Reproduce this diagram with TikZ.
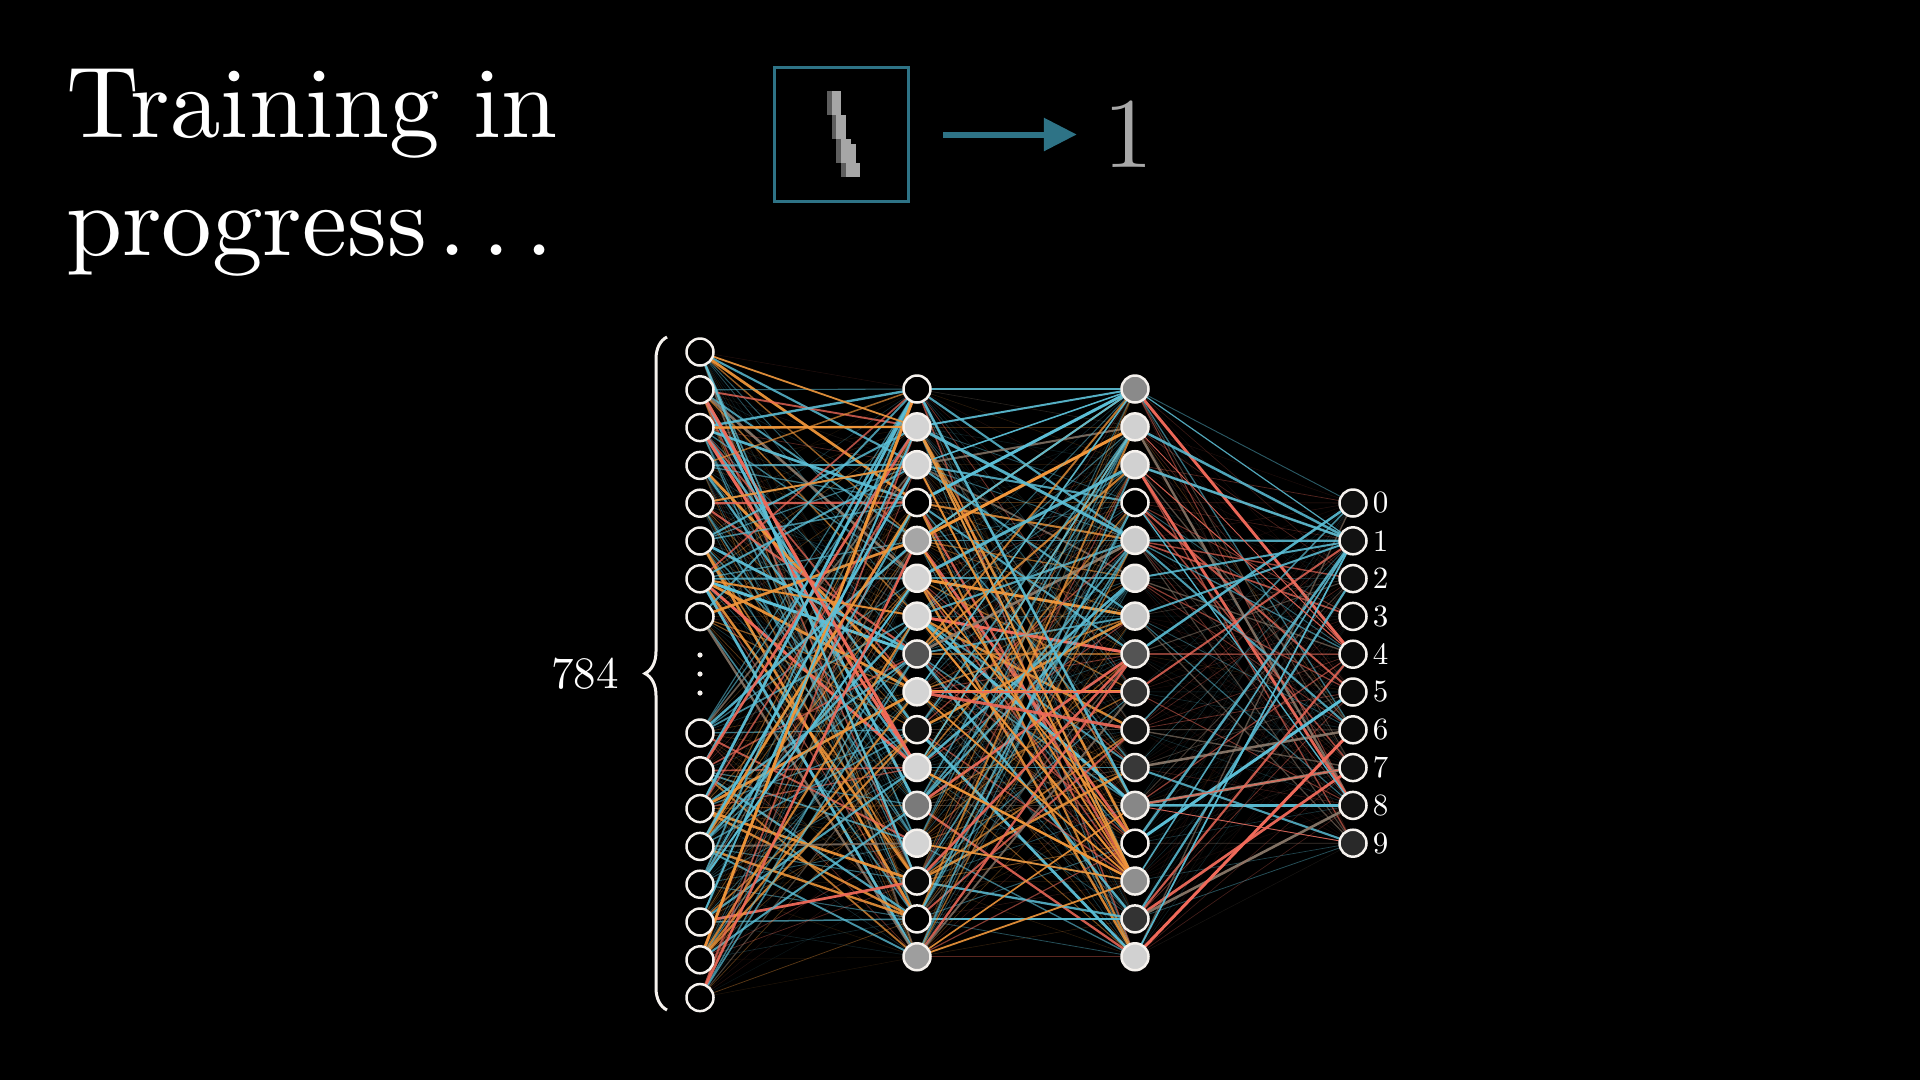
\documentclass[tikz,border=0pt]{standalone}
\usepackage{fontspec}
\setmainfont{lmroman10-regular.otf}
\usetikzlibrary{arrows.meta, positioning, decorations.pathreplacing}

\definecolor{boxteal}{HTML}{2E7386}
\definecolor{wblue}{HTML}{5CC0D8}
\definecolor{worange}{HTML}{F0963A}
\definecolor{wred}{HTML}{F06A5A}
\definecolor{wgray}{HTML}{8C7B6C}
\definecolor{predgray}{HTML}{A8A8A8}
\definecolor{ringwhite}{HTML}{F6F2EE}
\definecolor{digitgray}{HTML}{A6A6A6}
\definecolor{digitdark}{HTML}{5E5E5E}

\pgfdeclarelayer{canvas}
\pgfdeclarelayer{wires}
\pgfsetlayers{canvas,wires,main}

% random weight: cut points for blue / orange / red, exponent of strength
\newcommand{\pickwire}[4]{%
  \pgfmathsetmacro{\wu}{rnd}%
  \pgfmathsetmacro{\ws}{rnd^#4}%
  \ifdim\wu pt<#1pt \def\wc{wblue}\else
  \ifdim\wu pt<#2pt \def\wc{worange}\else
  \ifdim\wu pt<#3pt \def\wc{wred}\else \def\wc{wgray}\fi\fi\fi
  \pgfmathsetmacro{\wlw}{0.5+2.5*\ws*\ws}%
  \pgfmathsetmacro{\wop}{0.1+0.9*\ws}%
}

\begin{document}
\begin{tikzpicture}[x=1pt, y=-1pt,
    neuron/.style={circle, draw=ringwhite, line width=2.5pt, minimum size=27pt, inner sep=0pt},
    digitlabel/.style={font=\fontsize{31}{31}\selectfont, text=white, inner sep=0pt},
    title/.style={font=\fontsize{101}{118}\selectfont, text=white, inner sep=0pt, anchor=base west},
    wire/.style={line cap=round},
    pointer/.style={draw=boxteal, line width=6pt, -{Triangle[length=33pt, width=32pt]}}
  ]
  \begin{pgfonlayer}{canvas}
    \fill[black] (0,0) rectangle (1920,1080);
  \end{pgfonlayer}
  \useasboundingbox (0,0) rectangle (1920,1080);

  % Title
  \node[title] (title1) at (66,137) {Training in};
  \node[title] (title2) at ([yshift=-118pt]title1.base west) {progress\kern.12em.\kern.15em.\kern.15em.};

  % Sample image and prediction
  \node[draw=boxteal, line width=3pt, minimum size=134pt, inner sep=0pt] (img) at (841.5,134.5) {};
  \foreach \r in {5,...,22} {
    \pgfmathtruncatemacro{\cc}{12+(\r-5)*3.6/17}
    \pgfmathsetmacro{\cw}{\r>15 ? 14.4 : 9.6}
    \fill[digitdark] (774+\cc*4.8-4.8, 67+\r*4.8) rectangle ++(4.8,4.8);
    \fill[digitgray] (774+\cc*4.8, 67+\r*4.8) rectangle ++(\cw,4.8);
  }
  \node[font=\fontsize{100}{100}\selectfont, text=predgray, inner sep=0pt] (pred) at (1128,134.5) {1};
  \draw[pointer, shorten <=33pt, shorten >=26pt] (img.east) -- (pred.west);

  % Nodes
  \foreach \k in {1,...,8}
    \node[neuron, fill=black] (in\k) at (700, 352+37.8*\k-37.8) {};
  \foreach \k in {9,...,16}
    \node[neuron, fill=black] (in\k) at (700, 733+37.8*\k-9*37.8) {};
  \foreach \y in {655,674,693}
    \fill[ringwhite] (700,\y) circle (2.6);

  \foreach \g [count=\k] in {0,83,83,0,65,83,83,33,83,8,83,48,83,3,0,62}
    \node[neuron, fill=white!\g!black] (ha\k) at (917, 389+37.85*\k-37.85) {};
  \foreach \g [count=\k] in {54,82,82,0,80,82,78,33,20,10,22,53,0,56,20,82}
    \node[neuron, fill=white!\g!black] (hb\k) at (1135, 389+37.85*\k-37.85) {};

  \foreach \d/\g in {0/6,1/7,2/6,3/3,4/4,5/4,6/4,7/6,8/7,9/16} {
    \node[neuron, fill=white!\g!black] (out\d) at (1353, 503+37.8*\d) {};
    \node[digitlabel, right=5pt of out\d] (lab\d) {\d};
  }

  % Brace and count
  \draw[ringwhite, line width=3pt, decorate, decoration={brace, amplitude=22pt}] (667,1010) -- (667,337);
  \node[font=\fontsize{45}{45}\selectfont, text=white, inner sep=0pt] (count) at (585,674) {784};

  % Weights
  \begin{pgfonlayer}{wires}
    \pgfmathsetseed{7}
    \foreach \i in {1,...,16} {
      \foreach \j in {1,...,16} {
        \pickwire{0.42}{0.76}{0.92}{1.6}
        \draw[wire, draw=\wc, line width=\wlw pt, opacity=\wop] (in\i) -- (ha\j);
      }
    }
    \foreach \i in {1,...,16} {
      \foreach \j in {1,...,16} {
        \pickwire{0.38}{0.74}{0.92}{1.7}
        \draw[wire, draw=\wc, line width=\wlw pt, opacity=\wop] (ha\i) -- (hb\j);
      }
    }
    \foreach \i in {1,...,16} {
      \foreach \d in {0,...,9} {
        \pickwire{0.3}{0.34}{0.74}{3.4}
        \draw[wire, draw=\wc, line width=\wlw pt, opacity=\wop] (hb\i) -- (out\d);
      }
    }
    % strong weights
    \foreach \a/\b/\c/\w in {2/11/wred/3, 1/2/worange/1.8, 3/2/worange/2, 5/3/worange/2,
        7/7/worange/2, 12/3/wblue/2.5, 14/2/wblue/2, 13/6/wblue/2, 16/5/wred/2.5, 1/14/wblue/2.2}
      \draw[wire, draw=\c, line width=\w pt, opacity=0.9] (in\a) -- (ha\b);
    \foreach \a/\b/\c/\w in {1/1/wblue/2, 2/1/wblue/2, 3/1/wblue/1.5, 2/5/wblue/3, 6/3/wblue/3,
        5/1/wblue/2, 9/1/wblue/1.6, 11/2/wblue/1.6, 1/12/wblue/2.5, 2/14/worange/2, 3/14/worange/2,
        5/14/worange/1.8, 6/13/worange/1.6, 7/14/worange/2, 9/14/worange/1.8, 11/14/worange/2,
        13/14/worange/1.8, 16/14/worange/1.8, 16/12/worange/1.6, 9/9/wred/2, 9/10/wred/3, 14/8/wred/2.5}
      \draw[wire, draw=\c, line width=\w pt, opacity=0.9] (ha\a) -- (hb\b);
    \foreach \a/\d/\c/\w in {2/1/wblue/2.5, 3/1/wblue/2.5, 5/1/wblue/2.2, 6/1/wblue/2, 7/1/wblue/2,
        13/1/wblue/2.5, 14/1/wblue/1.6, 15/2/wblue/2.2, 16/1/wblue/1.6, 1/1/wblue/1.2, 4/8/wblue/1.3,
        3/4/wred/1.1, 2/4/wred/0.9, 12/7/wred/1.1, 12/9/wred/0.9, 8/4/wred/1.1}
      \draw[wire, draw=\c, line width=\w pt, opacity=0.85] (hb\a) -- (out\d);
  \end{pgfonlayer}
\end{tikzpicture}
\end{document}
